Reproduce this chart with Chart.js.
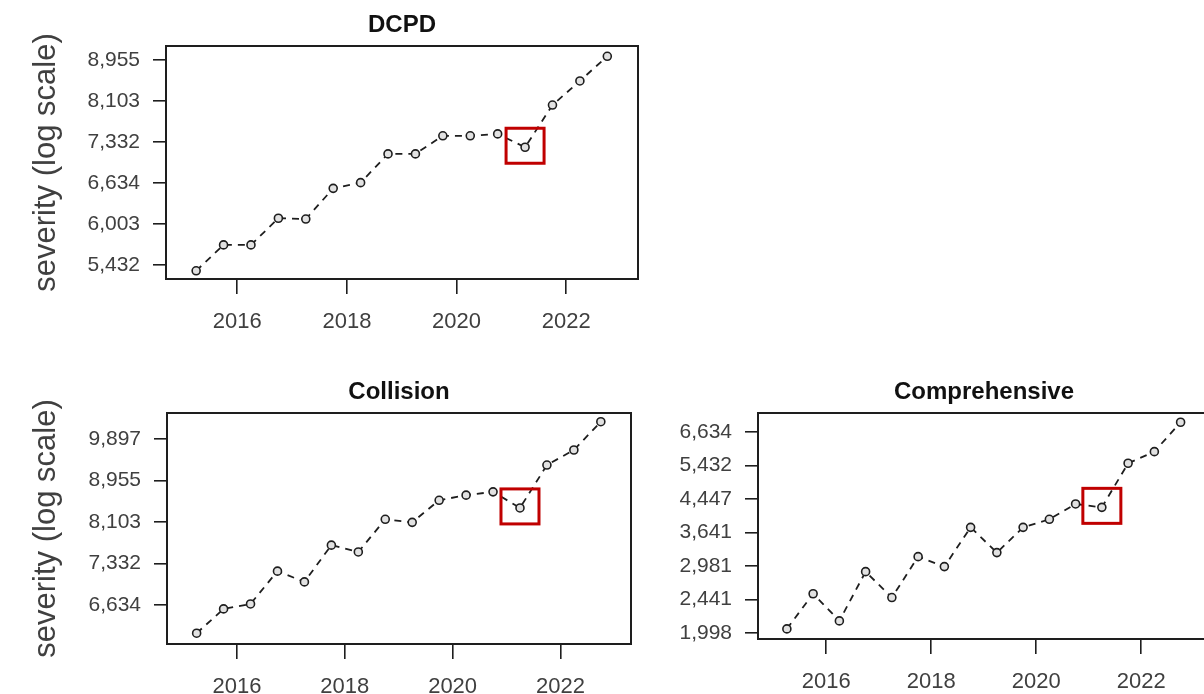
<!DOCTYPE html>
<html>
<head>
<meta charset="utf-8">
<script src="https://cdn.jsdelivr.net/npm/chart.js@4/dist/chart.umd.min.js"></script>
<style>
  html, body { margin: 0; padding: 0; background: #fff; overflow: hidden; }
  body { width: 1204px; height: 694px; position: relative; }
  canvas { position: absolute; }
</style>
</head>
<body>
<canvas id="dcpdChart" width="660" height="345" style="left:0px;top:0px"></canvas>
<canvas id="collisionChart" width="660" height="340" style="left:0px;top:367px"></canvas>
<canvas id="comprehensiveChart" width="570" height="340" style="left:660px;top:367px"></canvas>
<script>
// Half-year periods (decimal year)
const periods = [2015.25, 2015.75, 2016.25, 2016.75, 2017.25, 2017.75, 2018.25, 2018.75,
  2019.25, 2019.75, 2020.25, 2020.75, 2021.25, 2021.75, 2022.25, 2022.75];
const yearTicks = [2016, 2018, 2020, 2022];

// Severity by coverage
const dcpdSeverity = [5356, 5705, 5705, 6088, 6076, 6548, 6640, 7122,
  7122, 7443, 7443, 7477, 7238, 8022, 8508, 9035];
const collisionSeverity = [6199, 6573, 6652, 7199, 7015, 7664, 7539, 8156,
  8097, 8539, 8645, 8714, 8383, 9295, 9638, 10318];
const comprehensiveSeverity = [2047, 2525, 2147, 2881, 2468, 3151, 2969, 3754,
  3228, 3754, 3939, 4316, 4230, 5504, 5899, 7032];

// Y tick labels (log scale)
const dcpdTicks = [5432, 6003, 6634, 7332, 8103, 8955];
const collisionTicks = [6634, 7332, 8103, 8955, 9897];
const comprehensiveTicks = [1998, 2441, 2981, 3641, 4447, 5432, 6634];

// highlighted period (2021 H1)
const highlightIndex = 12;

const inkColor = '#1e1e1e';
const labelColor = '#404040';
const fontFamily = 'Liberation Sans, Arial, sans-serif';

// box around plot area, panel title, red square round the highlighted point
const framePlugin = {
  id: 'frame',
  afterDatasetsDraw(chart, args, pluginOpts) {
    const { ctx, chartArea } = chart;
    ctx.save();
    ctx.strokeStyle = inkColor;
    ctx.lineWidth = 2;
    ctx.strokeRect(chartArea.left, chartArea.top, chartArea.right - chartArea.left, chartArea.bottom - chartArea.top);

    ctx.fillStyle = '#111';
    ctx.font = 'bold 24px ' + fontFamily;
    ctx.textAlign = 'center';
    ctx.textBaseline = 'middle';
    ctx.fillText(pluginOpts.text, (chartArea.left + chartArea.right) / 2, chartArea.top - 21);

    const pt = chart.getDatasetMeta(0).data[highlightIndex];
    ctx.strokeStyle = '#c00000';
    ctx.lineWidth = 3;
    ctx.strokeRect(pt.x - 19, pt.y - 19, 38, 35);
    ctx.restore();
  }
};

function makePanel(canvasId, title, values, yTicks, yMin, yMax, opts) {
  const points = values.map((v, i) => ({ x: periods[i], y: v }));
  return new Chart(document.getElementById(canvasId), {
    type: 'line',
    data: {
      datasets: [{
        data: points,
        borderColor: inkColor,
        borderWidth: 1.8,
        borderDash: [7, 6],
        pointRadius: 4,
        pointBorderWidth: 1.6,
        pointBorderColor: inkColor,
        pointBackgroundColor: '#e2e2e2',
        tension: 0,
      }],
    },
    options: {
      responsive: false,
      animation: false,
      layout: { padding: { left: 0, right: opts.rightPad, top: 46, bottom: 0 } },
      scales: {
        x: {
          type: 'linear',
          min: 2014.7,
          max: 2023.31,
          afterBuildTicks: (scale) => { scale.ticks = yearTicks.map(v => ({ value: v })); },
          afterFit: (scale) => { scale.height = opts.bottomHeight; },
          grid: { drawOnChartArea: false, tickLength: 15, color: inkColor, lineWidth: 1.6 },
          border: { display: false },
          ticks: {
            autoSkip: false,
            maxRotation: 0,
            padding: 15,
            color: labelColor,
            font: { family: fontFamily, size: 22 },
            callback: (v) => String(v),
          },
        },
        y: {
          type: 'logarithmic',
          min: yMin,
          max: yMax,
          afterBuildTicks: (scale) => { scale.ticks = yTicks.map(v => ({ value: v })); },
          afterFit: (scale) => { scale.width = opts.leftWidth; },
          grid: { drawOnChartArea: false, tickLength: 13, color: inkColor, lineWidth: 1.6 },
          border: { display: false },
          ticks: {
            autoSkip: false,
            padding: 13,
            color: labelColor,
            font: { family: fontFamily, size: 21 },
            callback: (v) => Number(v).toLocaleString('en-US'),
          },
          title: {
            display: opts.showYTitle,
            text: 'severity (log scale)',
            color: labelColor,
            padding: { top: 28, bottom: 0 },
            font: { family: fontFamily, size: 31 },
          },
        },
      },
      plugins: {
        legend: { display: false },
        tooltip: { enabled: false },
        title: { display: false },
        frame: { text: title },
      },
    },
    plugins: [framePlugin],
  });
}

makePanel('dcpdChart', 'DCPD', dcpdSeverity, dcpdTicks, 5250, 9264,
  { leftWidth: 166, rightPad: 22, bottomHeight: 66, showYTitle: true });
makePanel('collisionChart', 'Collision', collisionSeverity, collisionTicks, 6040, 10537,
  { leftWidth: 167, rightPad: 29, bottomHeight: 63, showYTitle: true });
makePanel('comprehensiveChart', 'Comprehensive', comprehensiveSeverity, comprehensiveTicks, 1927, 7431,
  { leftWidth: 98, rightPad: 20, bottomHeight: 68, showYTitle: false });
</script>
</body>
</html>
